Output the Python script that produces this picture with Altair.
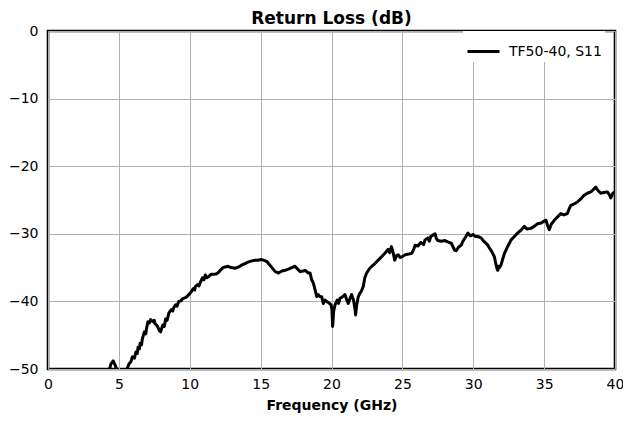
import altair as alt
import pandas as pd

freq_ghz = [
    0.0, 2.0, 3.5, 4.2, 4.45, 4.6, 4.75, 4.9, 5.2, 5.5, 5.7, 5.85, 5.95, 6.1, 6.2, 6.3,
    6.35, 6.45, 6.5, 6.6, 6.66, 6.8, 6.9, 6.95, 7.05, 7.15, 7.24, 7.4, 7.5, 7.55, 7.7,
    7.85, 7.94, 8.1, 8.2, 8.3, 8.4, 8.53, 8.7, 8.8, 8.9, 9.0, 9.1, 9.23, 9.4, 9.5,
    9.75, 9.93, 10.1, 10.25, 10.35, 10.4, 10.55, 10.65, 10.76, 10.9, 11.0, 11.1, 11.2,
    11.34, 11.5, 11.7, 11.9, 12.04, 12.2, 12.35, 12.5, 12.7, 12.9, 13.2, 13.45, 13.69,
    13.9, 14.1, 14.39, 14.6, 14.8, 15.04, 15.2, 15.44, 15.6, 15.8, 16.03, 16.26, 16.5,
    16.73, 17.0, 17.2, 17.43, 17.6, 17.79, 18.0, 18.14, 18.37, 18.49, 18.6, 18.72,
    18.84, 18.96, 19.07, 19.2, 19.31, 19.42, 19.55, 19.66, 19.8, 19.97, 20.03, 20.08,
    20.15, 20.25, 20.4, 20.5, 20.6, 20.72, 20.85, 20.95, 21.08, 21.18, 21.3, 21.42,
    21.55, 21.65, 21.7, 21.78, 21.89, 22.0, 22.1, 22.24, 22.35, 22.48, 22.7, 22.9,
    23.06, 23.3, 23.53, 23.75, 24.0, 24.1, 24.23, 24.35, 24.46, 24.6, 24.7, 24.85,
    24.96, 25.2, 25.45, 25.66, 25.8, 25.9, 26.1, 26.3, 26.5, 26.6, 26.8, 26.9, 27.0,
    27.15, 27.31, 27.4, 27.5, 27.75, 28.0, 28.2, 28.45, 28.68, 28.8, 28.95, 29.15,
    29.27, 29.45, 29.62, 29.8, 30.0, 30.15, 30.32, 30.55, 30.79, 31.0, 31.14, 31.3,
    31.49, 31.6, 31.68, 31.73, 31.8, 31.85, 31.96, 32.1, 32.2, 32.4, 32.55, 32.67,
    32.9, 33.13, 33.35, 33.6, 33.8, 34.07, 34.3, 34.54, 34.8, 35.0, 35.13, 35.25,
    35.36, 35.5, 35.71, 35.95, 36.18, 36.4, 36.64, 36.75, 36.88, 37.1, 37.35, 37.6,
    37.82, 38.05, 38.29, 38.45, 38.64, 38.8, 38.99, 39.2, 39.46, 39.6, 39.7, 39.85,
    40.0,
]

return_loss_db = [
    -62, -60, -56, -51, -49.2, -48.8, -49.5, -50.3, -50.8, -50.4, -49.3, -48.9, -48.2,
    -48.4, -47.5, -47.7, -46.8, -47.0, -46.2, -46.4, -45.5, -44.5, -44.8, -44.0, -43.0,
    -43.2, -42.7, -43.0, -42.8, -43.3, -43.6, -44.3, -44.5, -43.5, -43.7, -42.6, -42.8,
    -41.7, -41.2, -41.4, -40.8, -40.5, -40.7, -40.0, -39.9, -39.6, -39.4, -39.0,
    -38.6, -38.1, -38.3, -37.8, -37.5, -37.7, -37.1, -36.5, -36.8, -36.1, -36.5,
    -36.3, -36.0, -36.0, -35.9, -35.7, -35.3, -35.0, -34.9, -34.8, -35.0, -35.1,
    -34.9, -34.6, -34.4, -34.2, -34.0, -33.9, -33.9, -33.8, -33.9, -34.1, -34.5,
    -35.0, -35.6, -35.8, -35.5, -35.4, -35.2, -35.0, -34.8, -35.2, -35.6, -35.5,
    -35.4, -35.8, -35.8, -36.8, -37.3, -38.3, -39.3, -39.0, -39.3, -39.3, -40.3,
    -39.8, -40.0, -40.2, -40.5, -41.2, -43.7, -41.5, -40.5, -39.8, -40.3, -39.5,
    -39.4, -39.2, -39.0, -39.8, -40.3, -39.6, -39.0, -39.8, -41.0, -42.0, -40.5,
    -39.3, -38.8, -38.5, -37.8, -36.5, -35.8, -35.1, -34.7, -34.4, -33.9, -33.4,
    -32.9, -32.3, -32.8, -31.9, -32.8, -33.9, -33.2, -33.1, -33.5, -33.4, -33.1,
    -33.0, -32.9, -32.3, -31.7, -31.8, -31.3, -31.6, -30.9, -30.6, -31.1, -30.4,
    -30.2, -30.0, -30.7, -31.0, -31.1, -31.0, -31.2, -31.4, -32.4, -32.5, -32.0,
    -31.7, -31.1, -30.5, -29.9, -30.3, -30.1, -30.4, -30.4, -30.6, -31.2, -31.6,
    -32.1, -32.6, -33.4, -34.5, -35.2, -35.4, -34.8, -35.0, -34.6, -33.6, -32.9,
    -32.0, -31.4, -30.9, -30.4, -29.9, -29.5, -28.9, -29.3, -29.2, -28.9, -28.5,
    -28.4, -28.1, -28.0, -28.8, -29.4, -28.6, -28.0, -27.5, -27.0, -27.2, -27.0,
    -26.4, -25.8, -25.6, -25.3, -24.8, -24.3, -24.0, -23.8, -23.5, -23.1, -23.6,
    -24.0, -23.9, -23.8, -24.2, -24.7, -24.0, -23.8,
]

series_name = "TF50-40, S11"
x_ticks = [0, 5, 10, 15, 20, 25, 30, 35, 40]
y_ticks = [-50, -40, -30, -20, -10, 0]

df = pd.DataFrame({
    "freq": freq_ghz,
    "rl": return_loss_db,
    "series": [series_name] * len(freq_ghz),
})

chart = (
    alt.Chart(df)
    .mark_line(color="black", strokeWidth=3, clip=True, strokeJoin="round")
    .encode(
        x=alt.X(
            "freq:Q",
            scale=alt.Scale(domain=[0, 40], nice=False, zero=False),
            axis=alt.Axis(values=x_ticks, title="Frequency (GHz)", format="d",
                          labelFlush=False),
        ),
        y=alt.Y(
            "rl:Q",
            scale=alt.Scale(domain=[-50, 0], nice=False, zero=False),
            axis=alt.Axis(values=y_ticks, title=None, format="d", labelFlush=False),
        ),
        color=alt.Color(
            "series:N",
            scale=alt.Scale(range=["black"]),
            legend=alt.Legend(
                title=None,
                orient="none",
                legendX=415,
                legendY=0,
                fillColor="white",
                padding=3,
                symbolType="stroke",
                symbolSize=1024,
                symbolStrokeWidth=3,
                labelOffset=8,
                labelFont="DejaVu Sans",
                labelFontSize=14,
                labelColor="black",
            ),
        ),
    )
    .properties(
        width=567,
        height=338,
        title=alt.TitleParams(
            "Return Loss (dB)",
            font="DejaVu Sans",
            fontSize=17,
            fontWeight="bold",
            color="black",
            offset=-4,
            anchor="middle",
            frame="group",
        ),
        autosize=alt.AutoSizeParams(type="none"),
        padding={"left": 40, "top": 23, "right": 8, "bottom": 44},
    )
    .configure_view(stroke="black", strokeWidth=2.6)
    .configure_axis(
        domain=False,
        ticks=False,
        grid=True,
        gridColor="#b0b0b0",
        gridWidth=1,
        labelFont="DejaVu Sans",
        labelFontSize=14,
        labelColor="black",
        titleFont="DejaVu Sans",
        titleFontSize=14,
        titleFontWeight="bold",
        titleColor="black",
    )
    .configure_axisX(labelPadding=8, titlePadding=7)
    .configure_axisY(labelPadding=10)
)

chart.save("out.html", embed_options={"renderer": "svg", "actions": False})
